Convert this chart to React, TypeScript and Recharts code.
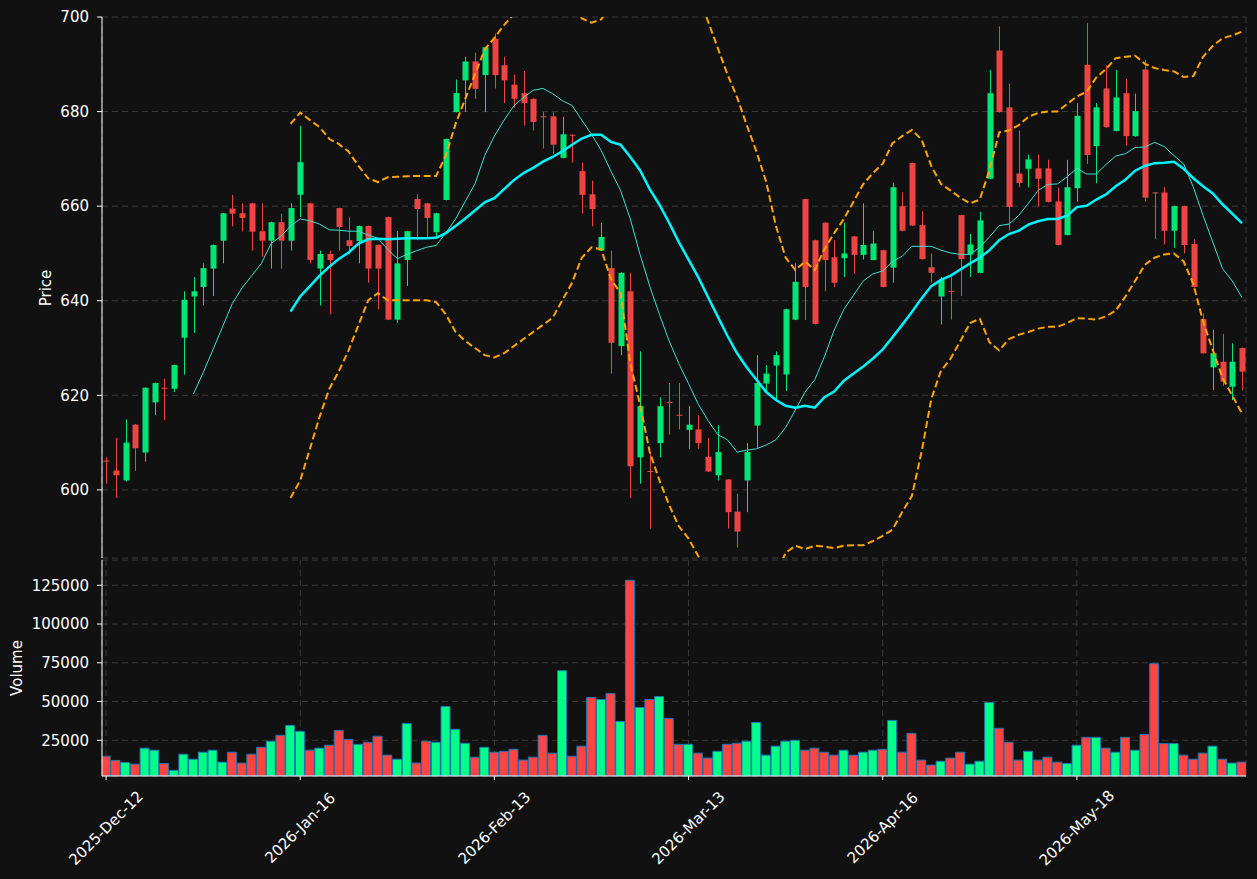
import React from "react";
import {
  ComposedChart,
  Bar,
  Line,
  XAxis,
  YAxis,
  CartesianGrid,
  Cell,
} from "recharts";

// tick positions (bar index) and their labels
const tickIdx = [0, 20, 40, 60, 80, 100];
const tickLabels = [
  "2025-Dec-12",
  "2026-Jan-16",
  "2026-Feb-13",
  "2026-Mar-13",
  "2026-Apr-16",
  "2026-May-18",
];

const opens = [
  606.2, 604.1, 602.0, 613.8, 607.9, 618.5, 621.6, 621.4, 632.2, 640.9,
  642.9, 646.8, 652.7, 659.5, 658.5, 660.6, 654.7, 652.7, 656.6, 652.7,
  662.4, 660.6, 646.8, 649.9, 659.6, 652.8, 652.6, 655.8, 651.8, 657.7,
  636.0, 648.6, 661.5, 660.6, 654.5, 661.3, 679.9, 686.6, 690.6, 687.7,
  695.4, 689.8, 685.7, 683.9, 682.7, 679.0, 679.0, 670.2, 675.1, 667.4,
  662.5, 650.6, 646.9, 630.4, 642.0, 606.9, 604.0, 609.9, 618.6, 615.9,
  612.7, 612.8, 607.0, 603.1, 602.2, 595.4, 602.0, 613.6, 622.5, 626.3,
  624.4, 636.0, 661.5, 652.8, 656.5, 649.2, 649.0, 653.6, 649.7, 648.6,
  650.7, 647.0, 660.0, 669.1, 656.0, 647.1, 640.9, 642.1, 658.1, 649.8,
  645.9, 665.8, 692.9, 680.9, 666.9, 667.9, 668.0, 668.0, 661.0, 653.9,
  663.8, 689.9, 672.7, 684.9, 675.9, 683.9, 674.8, 688.9, 662.9, 662.9,
  654.8, 660.0, 652.0, 636.1, 625.9, 627.1, 621.8, 630.0,
];

const highs = [
  606.9, 611.0, 614.9, 613.9, 621.7, 622.7, 623.5, 626.5, 642.0, 645.0,
  647.9, 651.9, 658.6, 662.4, 660.6, 660.7, 660.6, 656.7, 658.4, 660.6,
  677.0, 660.7, 650.6, 650.6, 659.7, 657.6, 655.9, 655.9, 651.9, 657.8,
  654.7, 654.8, 662.5, 660.7, 658.6, 674.3, 686.8, 691.6, 692.5, 693.7,
  696.5, 691.6, 687.8, 688.6, 682.8, 679.9, 679.9, 678.9, 675.2, 669.2,
  665.4, 656.5, 650.6, 646.0, 645.9, 629.3, 608.0, 619.6, 622.6, 622.6,
  617.7, 615.8, 611.0, 613.7, 602.3, 599.2, 609.9, 628.5, 626.4, 629.3,
  638.3, 647.9, 661.6, 652.9, 656.6, 652.8, 656.5, 653.7, 660.6, 654.7,
  650.8, 665.0, 662.9, 669.2, 658.9, 650.0, 645.0, 645.0, 658.2, 654.1,
  658.8, 688.8, 698.0, 685.9, 676.0, 670.9, 670.9, 669.8, 663.9, 669.8,
  681.8, 698.7, 681.8, 689.8, 688.8, 686.9, 683.8, 690.9, 663.0, 664.0,
  660.1, 660.1, 653.0, 637.3, 633.9, 633.0, 631.0, 630.1,
];

const lows = [
  601.3, 598.3, 601.8, 604.0, 606.0, 615.8, 614.7, 620.7, 624.4, 633.2,
  639.0, 641.0, 647.9, 655.7, 654.7, 650.6, 649.3, 646.8, 646.8, 650.6,
  657.7, 647.9, 639.0, 637.1, 650.6, 649.8, 647.9, 643.8, 638.2, 635.9,
  635.3, 643.1, 652.8, 653.5, 653.5, 661.2, 679.8, 679.9, 682.7, 679.9,
  684.9, 681.8, 680.8, 677.0, 676.0, 672.2, 671.1, 670.1, 669.2, 658.4,
  655.7, 650.5, 624.6, 628.5, 598.3, 601.3, 591.8, 606.9, 611.7, 612.8,
  608.7, 608.7, 603.8, 602.0, 591.8, 587.8, 595.3, 608.9, 620.9, 619.2,
  620.9, 635.9, 635.9, 635.0, 642.0, 642.9, 645.0, 645.7, 648.7, 649.1,
  642.8, 643.8, 654.7, 655.8, 648.7, 643.8, 635.0, 636.0, 641.0, 645.0,
  645.8, 665.7, 679.8, 654.8, 664.0, 664.0, 659.9, 660.8, 651.7, 653.8,
  661.0, 668.9, 664.9, 676.6, 675.8, 672.8, 674.7, 661.0, 653.0, 651.9,
  651.2, 650.0, 642.8, 628.8, 621.1, 622.0, 619.0, 621.1,
];

const closes = [
  606.0, 603.1, 610.0, 608.8, 621.6, 622.6, 621.4, 626.4, 640.2, 642.0,
  646.9, 651.8, 658.5, 658.4, 657.5, 654.6, 652.7, 656.6, 652.7, 659.6,
  669.3, 648.6, 649.9, 648.6, 655.6, 651.6, 655.8, 646.8, 646.8, 636.0,
  647.9, 654.7, 659.4, 657.5, 658.5, 674.2, 683.9, 690.6, 684.8, 693.6,
  687.7, 686.6, 682.7, 681.8, 677.8, 678.9, 673.0, 675.2, 675.0, 662.4,
  659.4, 653.5, 631.1, 645.9, 605.0, 617.7, 603.9, 617.7, 618.5, 615.7,
  613.8, 609.9, 603.9, 608.0, 595.3, 591.2, 608.0, 622.6, 624.6, 628.5,
  638.2, 644.0, 642.9, 635.1, 648.6, 643.8, 650.0, 649.7, 651.8, 652.1,
  642.9, 664.0, 654.8, 655.9, 648.8, 645.9, 644.4, 641.9, 648.8, 651.9,
  657.0, 683.9, 679.9, 659.8, 664.9, 669.9, 665.8, 660.9, 651.8, 664.0,
  679.1, 670.8, 680.9, 676.7, 683.0, 674.8, 680.1, 661.8, 662.8, 654.8,
  660.0, 651.8, 642.9, 628.9, 628.9, 622.9, 627.1, 625.0,
];

const volumes = [
  14700, 12000, 10700, 9600, 19900, 18600, 10000, 5600, 16000, 12800,
  17300, 18600, 10900, 17300, 10300, 16000, 20500, 24400, 28200, 34600,
  30800, 18600, 19900, 21800, 31400, 25600, 22400, 23700, 27600, 15400,
  12800, 35900, 10300, 24400, 23700, 46800, 32100, 23100, 14100, 20500,
  17300, 17900, 19200, 12200, 14100, 28200, 16700, 69900, 14700, 21200,
  52600, 51300, 55100, 37200, 128200, 46200, 51300, 53200, 39100, 22400,
  22400, 16700, 13500, 17900, 22400, 23100, 24400, 36500, 15400, 21200,
  24400, 25000, 18600, 19900, 17300, 15400, 18600, 15400, 17300, 18600,
  19200, 37800, 17300, 29500, 12200, 9000, 11500, 13500, 17300, 9600,
  11500, 49400, 32700, 23700, 12200, 17900, 12200, 14100, 10900, 10000,
  21800, 26900, 26900, 19900, 17300, 26900, 18600, 28800, 74400, 22900,
  22900, 15400, 12800, 16700, 21200, 12800, 10300, 10900,
];

const sma10 = [
  null, null, null, null, null, null, null, null, null, 620.3,
  624.8, 629.6, 634.5, 639.4, 642.7, 645.3, 647.9, 652.1, 653.6, 655.8,
  657.3, 656.9, 656.2, 655.0, 654.9, 654.7, 654.7, 653.9, 653.2, 650.9,
  648.9, 649.8, 650.6, 651.3, 651.7, 654.3, 657.3, 661.0, 664.7, 670.7,
  674.8, 678.2, 681.2, 683.0, 684.5, 684.9, 683.8, 682.3, 681.3, 678.2,
  675.2, 671.8, 667.4, 663.3, 657.3, 649.8, 643.1, 637.1, 631.5, 626.7,
  622.5, 618.1, 614.7, 611.7, 610.6, 608.0, 608.4, 608.7, 609.5, 610.6,
  613.2, 616.9, 620.7, 623.3, 628.2, 633.8, 638.2, 641.2, 644.2, 645.7,
  646.3, 648.3, 649.4, 651.5, 651.5, 651.5, 650.7, 650.1, 649.8, 649.8,
  651.3, 653.5, 655.9, 656.2, 658.0, 660.6, 663.3, 664.6, 664.7, 666.2,
  668.0, 666.8, 666.8, 668.8, 670.6, 671.1, 672.4, 672.5, 673.5, 672.6,
  670.7, 668.9, 664.0, 658.0, 652.4, 646.8, 644.2, 640.7,
];

const sma20 = [
  null, null, null, null, null, null, null, null, null, null,
  null, null, null, null, null, null, null, null, null, 637.7,
  640.9, 643.1, 645.3, 647.2, 648.9, 650.2, 652.1, 653.0, 653.1, 653.0,
  653.1, 653.2, 653.2, 653.2, 653.3, 654.3, 655.8, 657.4, 659.1, 660.8,
  661.7, 663.6, 665.5, 667.0, 668.1, 669.4, 670.4, 671.6, 673.0, 674.3,
  675.1, 675.1, 673.6, 673.0, 670.4, 667.6, 663.6, 660.3, 656.5, 652.4,
  648.7, 645.0, 640.8, 636.7, 632.6, 628.9, 625.9, 623.3, 620.7, 619.0,
  617.8, 617.4, 617.8, 617.4, 619.6, 620.8, 623.1, 624.6, 626.1, 627.8,
  629.7, 632.3, 634.9, 637.6, 640.5, 643.1, 644.4, 645.3, 646.6, 647.9,
  649.1, 650.7, 652.8, 654.1, 654.8, 656.1, 656.8, 657.3, 657.3, 658.0,
  659.8, 660.1, 661.4, 662.5, 664.2, 665.6, 667.5, 668.5, 669.1, 669.2,
  669.4, 667.9, 665.9, 664.2, 662.7, 660.4, 658.4, 656.4,
];

const bbUpper = [
  null, null, null, null, null, null, null, null, null, null,
  null, null, null, null, null, null, null, null, null, 677.4,
  679.8, 678.2, 676.7, 674.2, 673.1, 671.5, 668.5, 665.9, 665.1, 666.1,
  666.2, 666.3, 666.4, 666.4, 666.4, 670.7, 677.4, 682.7, 687.9, 693.1,
  695.6, 698.3, 700.6, 702.1, 702.8, 703.9, 704.4, 703.1, 702.2, 699.7,
  698.8, 699.5, 702.6, 704.4, 714.1, 717.1, 719.2, 718.6, 716.2, 712.5,
  707.9, 704.5, 699.1, 693.5, 687.9, 683.0, 677.1, 671.5, 665.1, 655.8,
  649.1, 646.5, 648.3, 646.5, 650.9, 654.3, 657.3, 661.0, 664.7, 667.0,
  669.0, 673.3, 674.8, 676.1, 674.1, 668.5, 664.7, 663.3, 661.8, 660.6,
  661.4, 667.7, 675.6, 676.0, 677.1, 678.9, 679.7, 680.0, 680.0, 681.6,
  683.2, 684.2, 687.2, 689.0, 691.3, 691.6, 691.8, 690.1, 689.2, 688.8,
  688.5, 687.3, 687.5, 691.6, 693.9, 695.5, 696.1, 696.9,
];

const bbLower = [
  null, null, null, null, null, null, null, null, null, null,
  null, null, null, null, null, null, null, null, null, 598.3,
  602.0, 608.7, 615.5, 621.4, 625.2, 629.6, 634.9, 640.1, 641.6, 640.1,
  640.1, 640.1, 640.1, 640.1, 639.7, 637.1, 633.4, 631.5, 630.0, 628.5,
  628.0, 628.9, 630.4, 631.9, 633.4, 634.9, 636.4, 640.1, 643.8, 649.1,
  651.3, 650.9, 644.6, 641.6, 626.7, 618.1, 608.0, 602.0, 596.8, 592.3,
  589.7, 586.0, 582.5, 579.9, 577.3, 574.8, 574.7, 575.1, 576.3, 582.2,
  586.7, 588.2, 587.5, 588.2, 588.0, 587.7, 588.2, 588.3, 588.3, 589.2,
  590.3, 591.6, 595.3, 598.7, 608.0, 619.2, 625.2, 627.8, 631.5, 635.3,
  636.2, 631.2, 629.5, 631.9, 632.8, 633.4, 634.1, 634.5, 634.5, 635.3,
  636.3, 636.2, 636.0, 636.7, 637.9, 640.9, 644.2, 647.6, 649.1, 649.8,
  650.0, 648.3, 643.5, 635.6, 629.6, 623.7, 620.0, 616.2,
];

const priceTicks = [600, 620, 640, 660, 680, 700];
const volTicks = [25000, 50000, 75000, 100000, 125000];

const UP = "#00e676";
const DOWN = "#ef4444";
const VUP = "#00ff88";
const VDOWN = "#ff4444";
const BG = "#111111";
const FONT = "DejaVu Sans";
const FS = 15;

const rows = opens.map((o, i) => ({
  i,
  o,
  h: highs[i],
  l: lows[i],
  c: closes[i],
  v: volumes[i],
  sma10: sma10[i],
  sma20: sma20[i],
  bbU: bbUpper[i],
  bbL: bbLower[i],
}));

const xDomain = [-0.42, 117.42];

function Candle(props: any) {
  const { x, y, width, height, payload } = props;
  if (!payload) return null;
  const { o, h, l, c } = payload;
  const col = c >= o ? UP : DOWN;
  const top = Math.min(y, y + height);
  const span = Math.abs(height);
  const k = span / (h - l);
  const bodyTop = top + (h - Math.max(o, c)) * k;
  const bodyH = Math.max(Math.abs(o - c) * k, 1);
  const cx = Math.round(x + width / 2) + 0.5;
  return (
    <g>
      <line x1={cx} x2={cx} y1={top} y2={top + span} stroke={col} strokeWidth={1} />
      <rect x={cx - width / 2} y={bodyTop} width={width} height={bodyH} fill={col} />
    </g>
  );
}

function DateTick(props: any) {
  const { x, y, payload } = props;
  const label = tickLabels[tickIdx.indexOf(payload.value)] || "";
  const cy = y + 46;
  return (
    <text
      x={x}
      y={cy}
      fill="#ffffff"
      fontSize={FS}
      fontFamily={FONT}
      textAnchor="middle"
      dominantBaseline="central"
      transform={`rotate(-45 ${x} ${cy})`}
    >
      {label}
    </text>
  );
}

const axisTick = { fill: "#ffffff", fontSize: FS, fontFamily: FONT };

export default function App() {
  return (
    <div
      style={{
        position: "absolute",
        left: 0,
        top: 0,
        width: 1257,
        height: 879,
        background: BG,
        overflow: "hidden",
      }}
    >
      <div style={{ position: "absolute", left: 0, top: 0 }}>
        <ComposedChart
          width={1257}
          height={560}
          data={rows}
          margin={{ top: 17, right: 11, left: 0, bottom: 2 }}
        >
          <CartesianGrid stroke="#3a3a3a" strokeDasharray="6 4" />
          <XAxis
            dataKey="i"
            type="number"
            domain={xDomain}
            allowDataOverflow
            ticks={tickIdx}
            tick={false}
            tickLine={false}
            height={0}
            axisLine={{ stroke: "#ffffff" }}
          />
          <XAxis
            xAxisId="top"
            orientation="top"
            type="number"
            domain={[0, 1]}
            tick={false}
            tickLine={false}
            height={0}
            axisLine={{ stroke: "#ffffff" }}
          />
          <YAxis
            type="number"
            domain={[585.6, 700]}
            allowDataOverflow
            ticks={priceTicks}
            width={102}
            tick={axisTick}
            tickSize={5}
            tickMargin={8}
            tickLine={{ stroke: "#ffffff" }}
            axisLine={{ stroke: "#ffffff" }}
          />
          <YAxis
            yAxisId="right"
            orientation="right"
            type="number"
            domain={[0, 1]}
            tick={false}
            tickLine={false}
            width={0}
            axisLine={{ stroke: "#ffffff" }}
          />
          <Bar
            dataKey={(d: any) => [d.l, d.h]}
            barSize={6}
            shape={(p: any) => <Candle {...p} />}
            isAnimationActive={false}
          />
          <Line
            dataKey="bbU"
            stroke="#ffa500"
            strokeWidth={2}
            strokeDasharray="7 3.5"
            dot={false}
            isAnimationActive={false}
          />
          <Line
            dataKey="bbL"
            stroke="#ffa500"
            strokeWidth={2}
            strokeDasharray="7 3.5"
            dot={false}
            isAnimationActive={false}
          />
          <Line
            dataKey="sma10"
            stroke="#40e0d0"
            strokeWidth={1}
            dot={false}
            isAnimationActive={false}
          />
          <Line
            dataKey="sma20"
            stroke="#00f5ff"
            strokeWidth={2.5}
            dot={false}
            isAnimationActive={false}
          />
        </ComposedChart>
      </div>

      <div style={{ position: "absolute", left: 0, top: 558 }}>
        <ComposedChart
          width={1257}
          height={321}
          data={rows}
          margin={{ top: 2, right: 11, left: 0, bottom: 0 }}
        >
          <CartesianGrid stroke="#3a3a3a" strokeDasharray="6 4" />
          <XAxis
            dataKey="i"
            type="number"
            domain={xDomain}
            allowDataOverflow
            ticks={tickIdx}
            tick={<DateTick />}
            tickSize={4}
            tickLine={{ stroke: "#ffffff" }}
            height={103}
            axisLine={{ stroke: "#ffffff" }}
          />
          <XAxis
            xAxisId="top"
            orientation="top"
            type="number"
            domain={[0, 1]}
            tick={false}
            tickLine={false}
            height={0}
            axisLine={{ stroke: "#ffffff" }}
          />
          <YAxis
            type="number"
            domain={[1968, 141300]}
            allowDataOverflow
            ticks={volTicks}
            width={102}
            tick={axisTick}
            tickSize={5}
            tickMargin={8}
            tickLine={{ stroke: "#ffffff" }}
            axisLine={{ stroke: "#ffffff" }}
          />
          <YAxis
            yAxisId="right"
            orientation="right"
            type="number"
            domain={[0, 1]}
            tick={false}
            tickLine={false}
            width={0}
            axisLine={{ stroke: "#ffffff" }}
          />
          <Bar
            dataKey="v"
            barSize={9}
            stroke="#1f77b4"
            strokeWidth={1}
            isAnimationActive={false}
          >
            {rows.map((r) => (
              <Cell key={r.i} fill={r.c >= r.o ? VUP : VDOWN} />
            ))}
          </Bar>
        </ComposedChart>
      </div>

      <svg
        width={1257}
        height={879}
        style={{ position: "absolute", left: 0, top: 0, pointerEvents: "none" }}
      >
        <text
          x={46}
          y={288}
          fill="#ffffff"
          fontSize={FS}
          fontFamily={FONT}
          textAnchor="middle"
          dominantBaseline="central"
          transform="rotate(-90 46 288)"
        >
          Price
        </text>
        <text
          x={17}
          y={668}
          fill="#ffffff"
          fontSize={FS}
          fontFamily={FONT}
          textAnchor="middle"
          dominantBaseline="central"
          transform="rotate(-90 17 668)"
        >
          Volume
        </text>
      </svg>
    </div>
  );
}
